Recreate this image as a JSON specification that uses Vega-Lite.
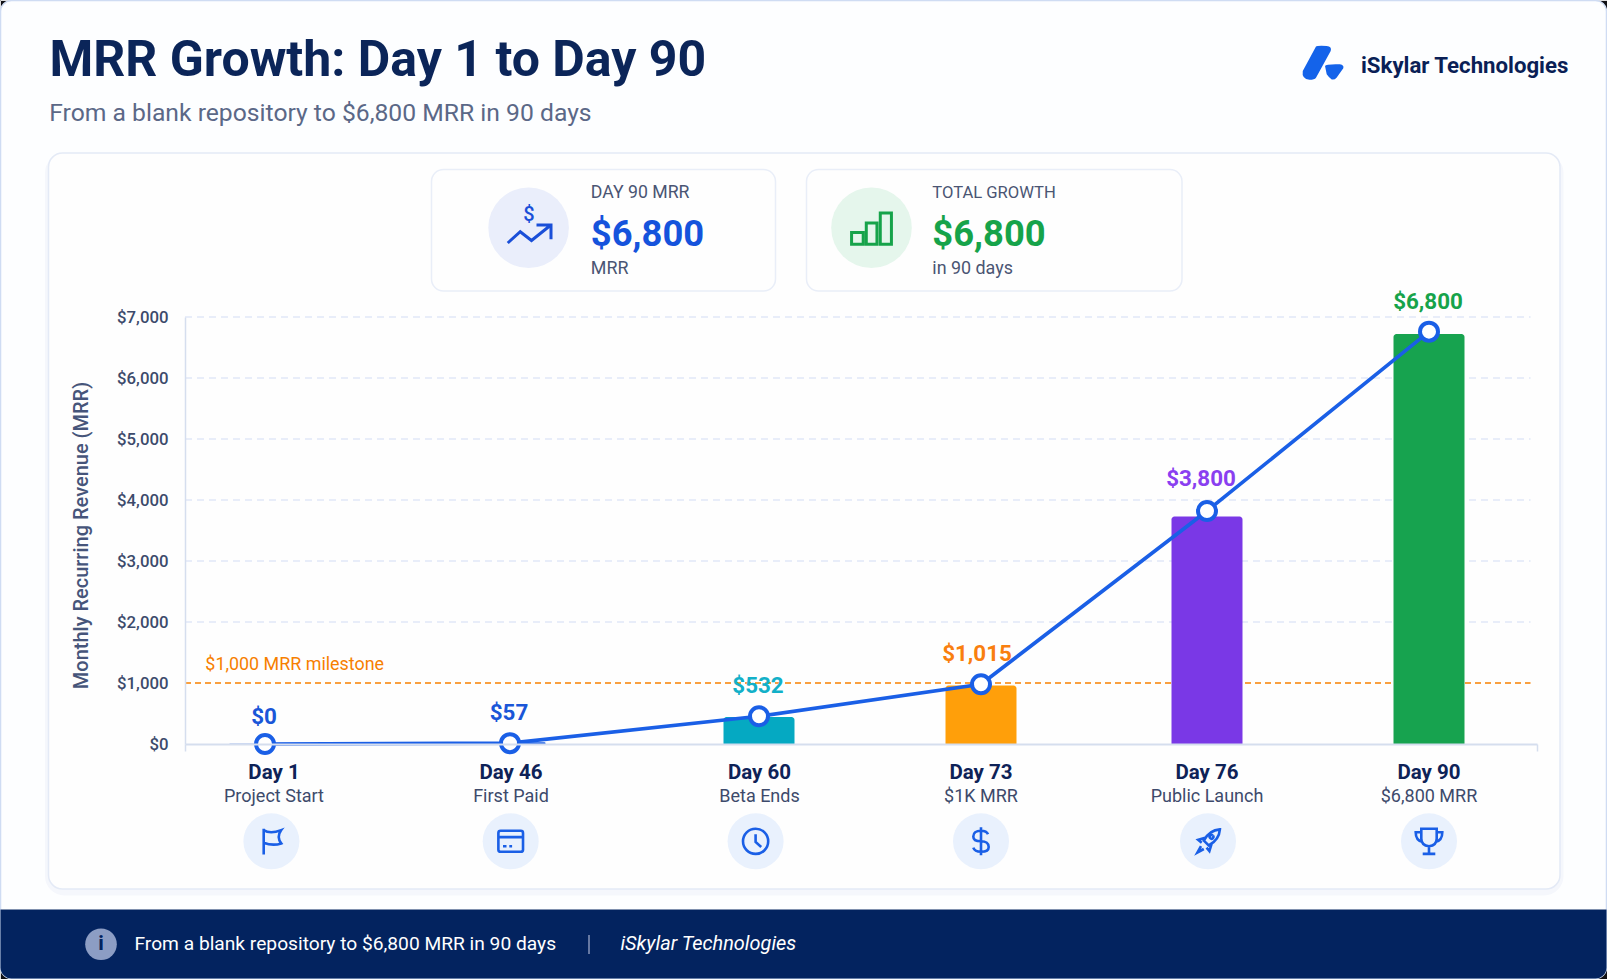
{"$schema":"https://vega.github.io/schema/vega-lite/v6.json","width":1607,"height":979,"autosize":"none","padding":0,"background":"#101014",
"datasets":{"milestones":[
{"day":1,"title":"Day 1","sub":"Project Start","mrr":0,"bar":12,"point":0,"icon":"flag"},
{"day":46,"title":"Day 46","sub":"First Paid","mrr":57,"bar":28,"point":14,"icon":"card"},
{"day":60,"title":"Day 60","sub":"Beta Ends","mrr":532,"bar":442,"point":455,"icon":"clock"},
{"day":73,"title":"Day 73","sub":"$1K MRR","mrr":1015,"bar":960,"point":980,"icon":"dollar"},
{"day":76,"title":"Day 76","sub":"Public Launch","mrr":3800,"bar":3730,"point":3820,"icon":"rocket"},
{"day":90,"title":"Day 90","sub":"$6,800 MRR","mrr":6800,"bar":6720,"point":6760,"icon":"trophy"}],
"ticks":[{"mrr":2000},{"mrr":3000},{"mrr":4000},{"mrr":5000},{"mrr":6000},{"mrr":7000}]},
"layer":[
{"layer":[
{"data":{"values":[{}]},"mark":{"type":"rect","fill":"#fdfeff","stroke":"#cfdcf3","strokeWidth":1.5,"cornerRadius":11},"encoding":{"x":{"datum":0.5,"type":"quantitative","scale":{"domain":[0,1607],"range":[0,1607]},"axis":null},"x2":{"datum":1606.5},"y":{"datum":0.5,"type":"quantitative","scale":{"domain":[0,979],"range":[0,979]},"axis":null},"y2":{"datum":978.5}}},
{"data":{"values":[{}]},"mark":{"type":"rect","fill":"#03235f","cornerRadiusBottomLeft":11,"cornerRadiusBottomRight":11},"encoding":{"x":{"datum":0.5,"type":"quantitative","scale":{"domain":[0,1607],"range":[0,1607]},"axis":null},"x2":{"datum":1606.5},"y":{"datum":909.5,"type":"quantitative","scale":{"domain":[0,979],"range":[0,979]},"axis":null},"y2":{"datum":978.5}}},
{"data":{"values":[{}]},"mark":{"type":"rect","fill":"#f5f7fc","stroke":"#f5f7fc","strokeWidth":7,"cornerRadius":16},"encoding":{"x":{"datum":48.5,"type":"quantitative","scale":{"domain":[0,1607],"range":[0,1607]},"axis":null},"x2":{"datum":1560},"y":{"datum":157,"type":"quantitative","scale":{"domain":[0,979],"range":[0,979]},"axis":null},"y2":{"datum":892}}},
{"data":{"values":[{}]},"mark":{"type":"rect","fill":"#fefefe","stroke":"#e4eaf6","strokeWidth":1.5,"cornerRadius":14},"encoding":{"x":{"datum":48.5,"type":"quantitative","scale":{"domain":[0,1607],"range":[0,1607]},"axis":null},"x2":{"datum":1560},"y":{"datum":153,"type":"quantitative","scale":{"domain":[0,979],"range":[0,979]},"axis":null},"y2":{"datum":889}}},
{"data":{"values":[{}]},"mark":{"type":"rect","fill":"#fefefe","stroke":"#e9eef8","strokeWidth":1.5,"cornerRadius":12},"encoding":{"x":{"datum":431.5,"type":"quantitative","scale":{"domain":[0,1607],"range":[0,1607]},"axis":null},"x2":{"datum":775.5},"y":{"datum":169.5,"type":"quantitative","scale":{"domain":[0,979],"range":[0,979]},"axis":null},"y2":{"datum":291}}},
{"data":{"values":[{}]},"mark":{"type":"rect","fill":"#fefefe","stroke":"#e9eef8","strokeWidth":1.5,"cornerRadius":12},"encoding":{"x":{"datum":806.5,"type":"quantitative","scale":{"domain":[0,1607],"range":[0,1607]},"axis":null},"x2":{"datum":1182},"y":{"datum":169.5,"type":"quantitative","scale":{"domain":[0,979],"range":[0,979]},"axis":null},"y2":{"datum":291}}},
{"data":{"values":[{}]},"mark":{"type":"circle","fill":"#eaeefb","size":6500,"opacity":1},"encoding":{"x":{"datum":528.6,"type":"quantitative","scale":{"domain":[0,1607],"range":[0,1607]},"axis":null},"y":{"datum":227.7,"type":"quantitative","scale":{"domain":[0,979],"range":[0,979]},"axis":null}}},
{"data":{"values":[{}]},"mark":{"type":"circle","fill":"#e5f6ec","size":6500,"opacity":1},"encoding":{"x":{"datum":871.5,"type":"quantitative","scale":{"domain":[0,1607],"range":[0,1607]},"axis":null},"y":{"datum":227.7,"type":"quantitative","scale":{"domain":[0,979],"range":[0,979]},"axis":null}}},
{"data":{"values":[{}]},"mark":{"type":"point","shape":"M-.85 .6 L-.35 .15 L.1 .5 L.85 -.1 M.3 -.12 H.88 V.45","size":2500,"filled":false,"stroke":"#1a4fd8","strokeWidth":3,"opacity":1},"encoding":{"x":{"datum":529,"type":"quantitative","scale":{"domain":[0,1607],"range":[0,1607]},"axis":null},"y":{"datum":228,"type":"quantitative","scale":{"domain":[0,979],"range":[0,979]},"axis":null}}},
{"data":{"values":[{}]},"mark":{"type":"point","shape":"M-.84 .17 H-.35 V.66 H-.84 Z M-.22 -.23 H.23 V.66 H-.22 Z M.37 -.65 H.84 V.66 H.37 Z","size":2250,"filled":false,"stroke":"#16a34a","strokeWidth":3,"opacity":1},"encoding":{"x":{"datum":871.5,"type":"quantitative","scale":{"domain":[0,1607],"range":[0,1607]},"axis":null},"y":{"datum":228.5,"type":"quantitative","scale":{"domain":[0,979],"range":[0,979]},"axis":null}}},
{"data":{"values":[{}]},"mark":{"type":"point","shape":"M-.31 -.78 Q-.25 -.84 .2 -.81 Q.46 -.78 .39 -.57 L-.31 .7 Q-.38 .8 -.62 .8 Q-1 .76 -.94 .38 Z M.12 .14 Q.16 .04 .83 .06 Q1.04 .1 .99 .25 L.67 .7 Q.56 .82 .44 .78 Q.32 .72 .2 .54 Z","size":1764,"filled":true,"fill":"#1463ea","strokeWidth":0,"opacity":1},"encoding":{"x":{"datum":1322.5,"type":"quantitative","scale":{"domain":[0,1607],"range":[0,1607]},"axis":null},"y":{"datum":63,"type":"quantitative","scale":{"domain":[0,979],"range":[0,979]},"axis":null}}},
{"data":{"values":[{}]},"mark":{"type":"circle","fill":"#8c9dc4","size":1000,"opacity":1},"encoding":{"x":{"datum":101,"type":"quantitative","scale":{"domain":[0,1607],"range":[0,1607]},"axis":null},"y":{"datum":944.3,"type":"quantitative","scale":{"domain":[0,979],"range":[0,979]},"axis":null}}},
{"data":{"values":[{}]},"mark":{"type":"rule","stroke":"#8896b8","strokeWidth":1.5},"encoding":{"x":{"datum":589,"type":"quantitative","scale":{"domain":[0,1607],"range":[0,1607]},"axis":null},"y":{"datum":935,"type":"quantitative","scale":{"domain":[0,979],"range":[0,979]},"axis":null},"y2":{"datum":954}}},
{"data":{"values":[{"text":"MRR Growth: Day 1 to Day 90"}]},"mark":{"type":"text","align":"left","baseline":"middle","font":"Roboto","fontSize":50,"fontWeight":700,"fill":"#0b2559"},"encoding":{"x":{"datum":49.5,"type":"quantitative","scale":{"domain":[0,1607],"range":[0,1607]},"axis":null},"y":{"datum":61,"type":"quantitative","scale":{"domain":[0,979],"range":[0,979]},"axis":null},"text":{"field":"text"}}},
{"data":{"values":[{"text":"From a blank repository to $6,800 MRR in 90 days"}]},"mark":{"type":"text","align":"left","baseline":"middle","font":"Roboto","fontSize":24.7,"fontWeight":400,"fill":"#5b6887"},"encoding":{"x":{"datum":49.2,"type":"quantitative","scale":{"domain":[0,1607],"range":[0,1607]},"axis":null},"y":{"datum":114,"type":"quantitative","scale":{"domain":[0,979],"range":[0,979]},"axis":null},"text":{"field":"text"}}},
{"data":{"values":[{"text":"iSkylar Technologies"}]},"mark":{"type":"text","align":"left","baseline":"middle","font":"Roboto","fontSize":22.2,"fontWeight":700,"fill":"#0a1f56"},"encoding":{"x":{"datum":1361,"type":"quantitative","scale":{"domain":[0,1607],"range":[0,1607]},"axis":null},"y":{"datum":65.7,"type":"quantitative","scale":{"domain":[0,979],"range":[0,979]},"axis":null},"text":{"field":"text"}}},
{"data":{"values":[{"text":"$"}]},"mark":{"type":"text","align":"center","baseline":"middle","font":"Roboto","fontSize":20,"fontWeight":500,"fill":"#1a4fd8"},"encoding":{"x":{"datum":529,"type":"quantitative","scale":{"domain":[0,1607],"range":[0,1607]},"axis":null},"y":{"datum":215,"type":"quantitative","scale":{"domain":[0,979],"range":[0,979]},"axis":null},"text":{"field":"text"}}},
{"data":{"values":[{"text":"DAY 90 MRR"}]},"mark":{"type":"text","align":"left","baseline":"middle","font":"Roboto","fontSize":17.7,"fontWeight":400,"fill":"#4a5573"},"encoding":{"x":{"datum":590.8,"type":"quantitative","scale":{"domain":[0,1607],"range":[0,1607]},"axis":null},"y":{"datum":192.7,"type":"quantitative","scale":{"domain":[0,979],"range":[0,979]},"axis":null},"text":{"field":"text"}}},
{"data":{"values":[{"text":"$6,800"}]},"mark":{"type":"text","align":"left","baseline":"middle","font":"Roboto","fontSize":36.4,"fontWeight":700,"fill":"#1553dc"},"encoding":{"x":{"datum":590.8,"type":"quantitative","scale":{"domain":[0,1607],"range":[0,1607]},"axis":null},"y":{"datum":235,"type":"quantitative","scale":{"domain":[0,979],"range":[0,979]},"axis":null},"text":{"field":"text"}}},
{"data":{"values":[{"text":"MRR"}]},"mark":{"type":"text","align":"left","baseline":"middle","font":"Roboto","fontSize":17.9,"fontWeight":400,"fill":"#4a5573"},"encoding":{"x":{"datum":590.8,"type":"quantitative","scale":{"domain":[0,1607],"range":[0,1607]},"axis":null},"y":{"datum":268.7,"type":"quantitative","scale":{"domain":[0,979],"range":[0,979]},"axis":null},"text":{"field":"text"}}},
{"data":{"values":[{"text":"TOTAL GROWTH"}]},"mark":{"type":"text","align":"left","baseline":"middle","font":"Roboto","fontSize":16.6,"fontWeight":400,"fill":"#4a5573"},"encoding":{"x":{"datum":932.3,"type":"quantitative","scale":{"domain":[0,1607],"range":[0,1607]},"axis":null},"y":{"datum":192.7,"type":"quantitative","scale":{"domain":[0,979],"range":[0,979]},"axis":null},"text":{"field":"text"}}},
{"data":{"values":[{"text":"$6,800"}]},"mark":{"type":"text","align":"left","baseline":"middle","font":"Roboto","fontSize":36.4,"fontWeight":700,"fill":"#16a34a"},"encoding":{"x":{"datum":932.3,"type":"quantitative","scale":{"domain":[0,1607],"range":[0,1607]},"axis":null},"y":{"datum":235,"type":"quantitative","scale":{"domain":[0,979],"range":[0,979]},"axis":null},"text":{"field":"text"}}},
{"data":{"values":[{"text":"in 90 days"}]},"mark":{"type":"text","align":"left","baseline":"middle","font":"Roboto","fontSize":17.9,"fontWeight":400,"fill":"#4a5573"},"encoding":{"x":{"datum":932.3,"type":"quantitative","scale":{"domain":[0,1607],"range":[0,1607]},"axis":null},"y":{"datum":268.7,"type":"quantitative","scale":{"domain":[0,979],"range":[0,979]},"axis":null},"text":{"field":"text"}}},
{"data":{"values":[{"text":"i"}]},"mark":{"type":"text","align":"center","baseline":"middle","font":"Roboto","fontSize":21,"fontWeight":700,"fill":"#03235f"},"encoding":{"x":{"datum":101,"type":"quantitative","scale":{"domain":[0,1607],"range":[0,1607]},"axis":null},"y":{"datum":944.3,"type":"quantitative","scale":{"domain":[0,979],"range":[0,979]},"axis":null},"text":{"field":"text"}}},
{"data":{"values":[{"text":"From a blank repository to $6,800 MRR in 90 days"}]},"mark":{"type":"text","align":"left","baseline":"middle","font":"Roboto","fontSize":19.2,"fontWeight":400,"fill":"#ffffff"},"encoding":{"x":{"datum":134.5,"type":"quantitative","scale":{"domain":[0,1607],"range":[0,1607]},"axis":null},"y":{"datum":944.3,"type":"quantitative","scale":{"domain":[0,979],"range":[0,979]},"axis":null},"text":{"field":"text"}}},
{"data":{"values":[{"text":"iSkylar Technologies"}]},"mark":{"type":"text","align":"left","baseline":"middle","font":"Roboto","fontSize":19.9,"fontStyle":"italic","fill":"#ffffff"},"encoding":{"x":{"datum":620.4,"type":"quantitative","scale":{"domain":[0,1607],"range":[0,1607]},"axis":null},"y":{"datum":944.3,"type":"quantitative","scale":{"domain":[0,979],"range":[0,979]},"axis":null},"text":{"field":"text"}}}
]},
{"layer":[
{"data":{"name":"ticks"},"mark":{"type":"rule","stroke":"#e1e8f7","strokeWidth":1.5,"strokeDash":[7,5]},"encoding":{
"x":{"datum":-10,"type":"quantitative","scale":{"domain":[-10,1,46,60,73,76,90,100],"range":[185,265,510,759,981,1207,1429,1537],"nice":false,"zero":false,"padding":0},"axis":{"orient":"bottom","offset":-235,"zindex":1,"values":[-10,100],"labels":false,"title":null,"grid":false,"ticks":true,"tickSize":7,"tickColor":"#d5deee","tickWidth":1.5,"domainColor":"#d5deee","domainWidth":2}},
"x2":{"datum":99.4},
"y":{"field":"mrr","type":"quantitative","scale":{"domain":[0,7000],"range":[744,317],"nice":false,"zero":false},"axis":{"orient":"left","offset":-185,"zindex":1,"values":[0,1000,2000,3000,4000,5000,6000,7000],"format":"$,.0f","grid":false,"ticks":false,"labelPadding":17,"labelFont":"Roboto","labelFontSize":16.8,"labelFontWeight":500,"labelColor":"#3c4a6b","domainColor":"#d5deee","domainWidth":1.5,"title":"Monthly Recurring Revenue (MRR)","titleFont":"Roboto","titleFontSize":20,"titleFontWeight":500,"titleColor":"#46557a","titleAngle":-90,"titleAlign":"center","titleBaseline":"middle","titleX":-104,"titleY":535}}}},
{"data":{"values":[{"mrr":1000}]},"mark":{"type":"rule","stroke":"#f9a03f","strokeWidth":1.8,"strokeDash":[6,4]},"encoding":{"x":{"datum":-10,"type":"quantitative"},"x2":{"datum":99.4},"y":{"field":"mrr","type":"quantitative"}}},
{"data":{"name":"milestones"},"mark":{"type":"bar","orient":"vertical","width":71,"cornerRadiusTopLeft":3,"cornerRadiusTopRight":3},"encoding":{"x":{"field":"day","type":"quantitative"},"y":{"field":"bar","type":"quantitative","stack":null},"color":{"field":"title","type":"nominal","legend":null,"scale":{"domain":["Day 1","Day 46","Day 60","Day 73","Day 76","Day 90"],"range":["#b3c8f2","#1a5fe6","#05a9c2","#ff9f0a","#7a38e6","#17a34f"]}}}},
{"data":{"name":"milestones"},"mark":{"type":"line","stroke":"#1a5fe6","strokeWidth":3.6},"encoding":{"x":{"field":"day","type":"quantitative"},"y":{"field":"point","type":"quantitative"}}},
{"data":{"name":"milestones"},"mark":{"type":"circle","fill":"#ffffff","stroke":"#1a5fe6","strokeWidth":4,"size":324,"opacity":1},"encoding":{"x":{"field":"day","type":"quantitative"},"y":{"field":"point","type":"quantitative"}}},
{"data":{"name":"milestones"},"mark":{"type":"text","align":"center","baseline":"middle","dy":{"expr":"datum.day===76?-32:datum.day===1?-27:-30"},"dx":{"expr":"datum.day===76?-6:datum.day===73?-4:-1"},"font":"Roboto","fontSize":22.4,"fontWeight":700},"encoding":{"x":{"field":"day","type":"quantitative"},"y":{"field":"point","type":"quantitative"},"text":{"field":"mrr","type":"quantitative","format":"$,.0f"},"color":{"field":"title","type":"nominal","legend":null,"scale":{"domain":["Day 1","Day 46","Day 60","Day 73","Day 76","Day 90"],"range":["#1a56d8","#1a56d8","#12b0c8","#f97f0f","#8a3ff0","#16a34a"]}}}},
{"data":{"values":[{"mrr":1000,"text":"$1,000 MRR milestone"}]},"mark":{"type":"text","align":"left","baseline":"middle","dy":-18,"font":"Roboto","fontSize":17.9,"fontWeight":400,"fill":"#f77f00"},"encoding":{"x":{"datum":-7.2,"type":"quantitative"},"y":{"field":"mrr","type":"quantitative"},"text":{"field":"text"}}}
],"resolve":{"scale":{"color":"independent"}}},
{"data":{"name":"milestones"},"layer":[
{"mark":{"type":"text","align":"center","baseline":"middle","font":"Roboto","fontSize":20.5,"fontWeight":700,"fill":"#0e2257"},"encoding":{"x":{"field":"day","type":"quantitative","scale":{"domain":[1,46,60,73,76,90],"range":[274,511,759.5,981,1207,1429],"nice":false,"zero":false},"axis":null},"y":{"datum":772.7,"type":"quantitative","scale":{"domain":[0,979],"range":[0,979]},"axis":null},"text":{"field":"title"}}},
{"mark":{"type":"text","align":"center","baseline":"middle","font":"Roboto","fontSize":18,"fontWeight":400,"fill":"#3d4a6b"},"encoding":{"x":{"field":"day","type":"quantitative","axis":null},"y":{"datum":797.3,"type":"quantitative","scale":{"domain":[0,979],"range":[0,979]},"axis":null},"text":{"field":"sub"}}}
]},
{"data":{"name":"milestones"},"layer":[
{"mark":{"type":"circle","fill":"#e9f1fd","size":3136,"opacity":1},"encoding":{"x":{"field":"day","type":"quantitative","scale":{"domain":[1,46,60,73,76,90],"range":[271.4,510.7,755.6,981,1208,1429],"nice":false,"zero":false},"axis":null},"y":{"datum":841.3,"type":"quantitative","scale":{"domain":[0,979],"range":[0,979]},"axis":null}}},
{"mark":{"type":"point","filled":false,"stroke":"#1a5fe6","strokeWidth":2.6,"size":784,"opacity":1},"encoding":{"x":{"field":"day","type":"quantitative","axis":null},"y":{"datum":841.3,"type":"quantitative","scale":{"domain":[0,979],"range":[0,979]},"axis":null},"shape":{"field":"icon","type":"nominal","legend":null,"scale":{"domain":["flag","card","clock","dollar","rocket","trophy"],"range":[
"M-.55 -.9 V.95 M-.55 -.8 Q-.1 -.5 .7 -.8 Q.35 -.3 .7 .15 Q.1 .35 -.55 .1",
"M-.72 -.75 H.72 Q.88 -.75 .88 -.6 V.6 Q.88 .75 .72 .75 H-.72 Q-.88 .75 -.88 .6 V-.6 Q-.88 -.75 -.72 -.75 Z M-.88 -.3 H.88 M-.55 .35 H-.3 M-.1 .35 H.1",
"M.9 0 A.9 .9 0 1 1 -.9 0 A.9 .9 0 1 1 .9 0 M0 -.5 V.05 L.4 .4",
"M.5 -.5 Q.4 -.75 0 -.75 Q-.55 -.75 -.55 -.35 Q-.55 0 0 0 Q.55 0 .55 .4 Q.55 .75 0 .75 Q-.45 .75 -.55 .45 M0 -1 V1",
"M.85 -.85 Q.1 -.8 -.3 -.05 L.05 .3 Q.8 -.1 .85 -.85 Z M-.2 -.25 L-.7 -.1 L-.45 .1 M.25 .2 L.1 .7 L-.1 .45 M-.5 .35 L-.75 .8 L-.3 .55 M.35 -.4 A.13 .13 0 1 1 .34 -.41",
"M-.55 -.9 H.55 V-.2 Q.55 .3 0 .35 Q-.55 .3 -.55 -.2 Z M-.55 -.65 H-.95 Q-.95 -.05 -.45 .05 M.55 -.65 H.95 Q.95 -.05 .45 .05 M0 .35 V.85 M-.45 .9 H.45"]}}}}
]}
],
"resolve":{"scale":{"x":"independent","y":"independent","color":"independent","shape":"independent"}}}
